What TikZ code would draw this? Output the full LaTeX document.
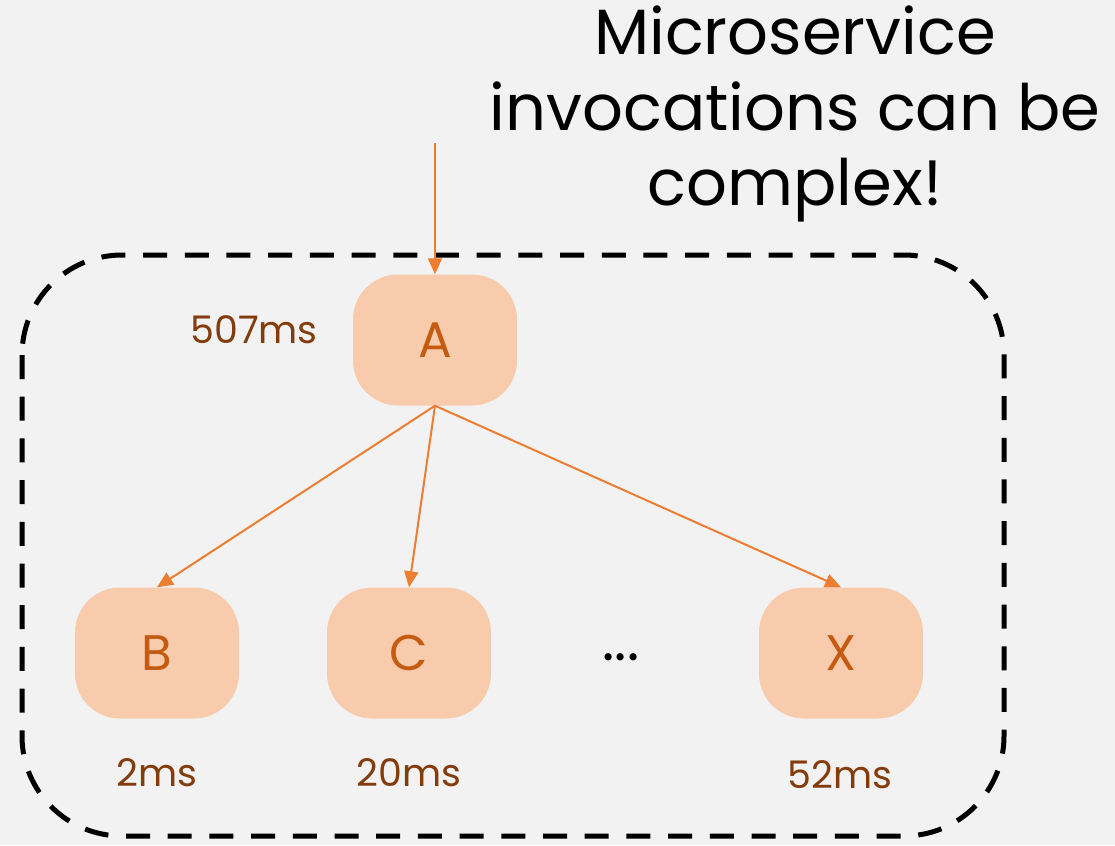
\documentclass[tikz,border=0pt]{standalone}
\usepackage{fontspec}
\setmainfont{Poppins}
\usetikzlibrary{arrows.meta}
\definecolor{bg}{HTML}{F2F2F2}
\definecolor{peach}{HTML}{F8CBAD}
\definecolor{letter}{HTML}{C55A11}
\definecolor{lbl}{HTML}{843C0C}
\definecolor{arr}{HTML}{ED7D31}
\tikzset{
  svc/.style={fill=peach, rounded corners=45pt, minimum width=164pt, minimum height=131pt, inner sep=0pt, text=letter, font=\fontsize{50}{60}\selectfont},
  lat/.style={text=lbl, inner sep=0pt, font=\fontsize{38}{46}\selectfont},
  call/.style={draw=arr, line width=2pt, -{Triangle[length=16pt,width=14pt]}},
  frame/.style={draw=black, line width=5pt, dash pattern=on 24pt off 17.7pt, rounded corners=100pt}
}
\begin{document}
\begin{tikzpicture}[x=1pt,y=-1pt]
\fill[bg] (0,0) rectangle (1115,845);
\useasboundingbox (0,0) rectangle (1115,845);
\draw[frame] (22,255) rectangle (1004,836);
\node[align=center, inner sep=0pt, font=\fontsize{64}{75.5}\selectfont] (title) at (795,114) {Microservice\\invocations can be\\complex!};
\node[svc] (A) at (435,340) {A};
\node[svc] (B) at (157,653) {B};
\node[svc] (C) at (409,653) {C};
\node[svc] (X) at (841,653) {X};
\node[font=\fontsize{58}{64}\selectfont, inner sep=0pt] (dots) at (621,657) {...};
\node[lat] (tA) at (254,330) {507ms};
\node[lat] (tB) at (157,773) {2ms};
\node[lat] (tC) at (409,773) {20ms};
\node[lat] (tX) at (840,775) {52ms};
\coordinate (in) at (435,143);
\draw[call] (in) -- (A.north);
\draw[call] (A.south) -- (B.north);
\draw[call] (A.south) -- (C.north);
\draw[call] (A.south) -- (X.north);
\end{tikzpicture}
\end{document}
